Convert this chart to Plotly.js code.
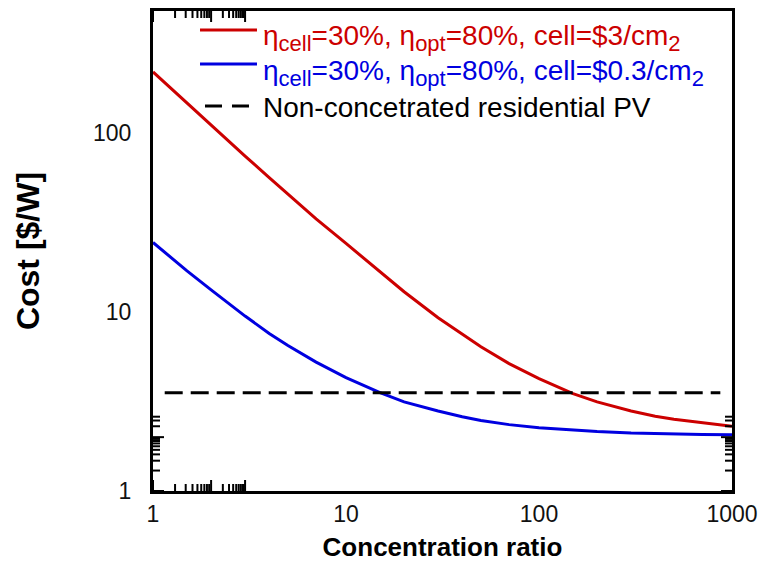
<!DOCTYPE html>
<html>
<head>
<meta charset="utf-8">
<script src="https://cdn.plot.ly/plotly-3.0.1.min.js"></script>
<style>html,body{margin:0;padding:0;background:#fff;}#chart{width:766px;height:572px;}</style>
</head>
<body>
<div id="chart"></div>
<script>
// Concentration ratio (x) and cost in $/W (y)
const concRatio = [1, 1.5, 2, 3, 4, 5, 7, 10, 15, 20, 30, 40, 50, 70, 100, 150, 200, 300, 400, 500, 700, 1000];
const costCell3 = [220, 147, 111, 74.5, 56.5, 45.5, 33.2, 24.2, 16.7, 13.0, 9.3, 7.5, 6.4, 5.15, 4.25, 3.5, 3.15, 2.8, 2.62, 2.52, 2.4, 2.3];
const costCell03 = [24.5, 17.0, 13.3, 9.5, 7.6, 6.5, 5.25, 4.3, 3.55, 3.15, 2.8, 2.6, 2.48, 2.35, 2.26, 2.19, 2.15, 2.11, 2.09, 2.08, 2.07, 2.06];
const pvX = [1.15, 870];
const pvCost = [3.54, 3.54];
const xRange = [1, 1000];
const yRange = [1, 482];
const xMajorTicks = [1, 10, 100, 1000];
const xMinorTicks = [2, 3, 4, 5, 6, 7, 8, 9, 20, 30, 40, 50, 60, 70, 80, 90, 200, 300, 400, 500, 600, 700, 800, 900];
const yMajorTicks = [1, 10, 100];
const yMinorTicks = [2, 3, 4, 5, 6, 7, 8, 9, 20, 30, 40, 50, 60, 70, 80, 90, 200, 300, 400];
const legendLabels = [
  'η<sub><span style="font-size:22px">cell</span></sub>=30%, η<sub><span style="font-size:22px">opt</span></sub>=80%, cell=$3/cm<sub><span style="font-size:22px">2</span></sub>',
  'η<sub><span style="font-size:22px">cell</span></sub>=30%, η<sub><span style="font-size:22px">opt</span></sub>=80%, cell=$0.3/cm<sub><span style="font-size:22px">2</span></sub>',
  'Non-concetrated residential PV'
];

const red = 'rgb(204,0,0)';
const blue = 'rgb(0,0,224)';
const FONT = 'Liberation Sans, Arial, sans-serif';

const traces = [
  {x: concRatio, y: costCell3, mode: 'lines', line: {color: red, width: 3}, showlegend: false},
  {x: concRatio, y: costCell03, mode: 'lines', line: {color: blue, width: 3}, showlegend: false},
  {x: pvX, y: pvCost, mode: 'lines', line: {color: 'black', width: 3, dash: '18px,8px'}, showlegend: false}
];

function axis(extra) {
  return Object.assign({
    type: 'log', showgrid: false, zeroline: false,
    showline: true, linecolor: 'black', linewidth: 3, mirror: true,
    tickmode: 'linear', tick0: 0, dtick: 1,
    ticks: '', 
    tickfont: {family: FONT, size: 23, color: '#111'}
  }, extra);
}

// Tick marks placed through the axes' own (log) scales, fixed pixel length
const TICK = {color: 'black', width: 2};
function xTickShapes(vals, len) {
  const out = [];
  vals.forEach(v => {
    const lx = Math.log10(v);
    out.push({type: 'line', xref: 'x', yref: 'paper', ysizemode: 'pixel', yanchor: 0,
              x0: lx, x1: lx, y0: 0, y1: len, line: TICK, layer: 'above'});
    out.push({type: 'line', xref: 'x', yref: 'paper', ysizemode: 'pixel', yanchor: 1,
              x0: lx, x1: lx, y0: 0, y1: -len, line: TICK, layer: 'above'});
  });
  return out;
}
function yTickShapes(vals, len) {
  const out = [];
  vals.forEach(v => {
    const ly = Math.log10(v);
    out.push({type: 'line', xref: 'paper', yref: 'y', xsizemode: 'pixel', xanchor: 0,
              x0: 0, x1: len, y0: ly, y1: ly, line: TICK, layer: 'above'});
    out.push({type: 'line', xref: 'paper', yref: 'y', xsizemode: 'pixel', xanchor: 1,
              x0: 0, x1: -len, y0: ly, y1: ly, line: TICK, layer: 'above'});
  });
  return out;
}

// Legend drawn as annotations + sample lines (paper coordinates)
const legendRows = [
  {color: red, ty: 0.944, ly: 0.9604, lx0: 0.0812, lx1: 0.1796, dash: 'solid'},
  {color: blue, ty: 0.871, ly: 0.8896, lx0: 0.0812, lx1: 0.1796, dash: 'solid'},
  {color: 'black', ty: 0.798, ly: 0.8021, lx0: 0.0898, lx1: 0.1675, dash: '17px,10px'}
];
const annotations = legendRows.map((r, i) => ({
  xref: 'paper', yref: 'paper', x: 0.186, y: r.ty, xanchor: 'left', yanchor: 'middle',
  text: legendLabels[i], showarrow: false,
  font: {family: FONT, size: 28, color: r.color}
}));
const legendShapes = legendRows.map(r => ({
  type: 'line', xref: 'paper', yref: 'paper', x0: r.lx0, x1: r.lx1, y0: r.ly, y1: r.ly,
  line: {color: r.color, width: 3, dash: r.dash}
}));

const shapes = [].concat(
  xTickShapes(xMajorTicks, 11), xTickShapes(xMinorTicks, 7),
  yTickShapes(yMajorTicks, 11), yTickShapes(yMinorTicks, 7),
  legendShapes
);

const layout = {
  width: 766, height: 572,
  margin: {l: 153, r: 34, t: 11, b: 81},
  showlegend: false,
  annotations: annotations,
  shapes: shapes,
  xaxis: axis({
    range: xRange.map(Math.log10),
    title: {text: '<b>Concentration ratio</b>', font: {size: 26, color: 'black', family: FONT}, standoff: 13}
  }),
  yaxis: axis({
    range: yRange.map(Math.log10),
    ticklabelstandoff: 14,
    title: {text: '<b>Cost [$/W]</b>', font: {size: 32, color: 'black', family: FONT}, standoff: 44}
  })
};

Plotly.newPlot('chart', traces, layout, {displayModeBar: false});
</script>
</body>
</html>
